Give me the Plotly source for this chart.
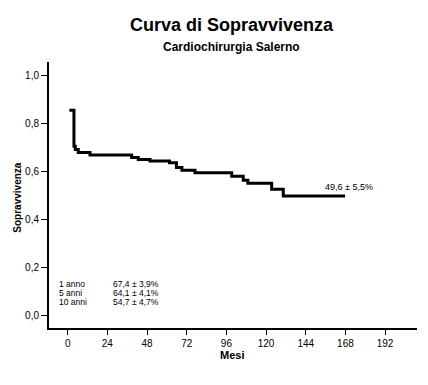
import plotly.graph_objects as go

# Kaplan-Meier step curve (months, survival)
months = [1.0, 3.8, 4.6, 6.4, 13.5, 38.7, 42.7, 49.8, 61.6, 65.8, 69.1, 77.0,
          99.2, 106.2, 109.0, 123.4, 130.4, 167.8]
survival = [0.854, 0.704, 0.690, 0.678, 0.667, 0.657, 0.649, 0.642, 0.635, 0.615,
            0.604, 0.593, 0.579, 0.5625, 0.549, 0.524, 0.496, 0.496]

x_ticks = [0, 24, 48, 72, 96, 120, 144, 168, 192]
y_ticks = [0.0, 0.2, 0.4, 0.6, 0.8, 1.0]
y_tick_labels = ["0,0", "0,2", "0,4", "0,6", "0,8", "1,0"]

stat_labels = ["1 anno", "5 anni", "10 anni"]
stat_values = ["67,4 ± 3,9%", "64,1 ± 4,1%", "54,7 ± 4,7%"]
stat_y = [0.131, 0.093, 0.055]
final_label = "49,6 ± 5,5%"

FONT = "Arial, Liberation Sans, sans-serif"

fig = go.Figure()
fig.add_trace(go.Scatter(
    x=months, y=survival, mode="lines", line=dict(color="black", width=3, shape="hv"),
    hoverinfo="skip", showlegend=False))

annotations = []
for lab, val, yy in zip(stat_labels, stat_values, stat_y):
    annotations.append(dict(x=-5.9, y=yy, xref="x", yref="y", text=lab, showarrow=False,
                            xanchor="left", yanchor="middle", borderpad=0,
                            font=dict(family=FONT, size=8.5, color="black")))
    annotations.append(dict(x=26.8, y=yy, xref="x", yref="y", text=val, showarrow=False,
                            xanchor="left", yanchor="middle", borderpad=0,
                            font=dict(family=FONT, size=8.5, color="black")))
annotations.append(dict(x=154.4, y=0.533, xref="x", yref="y", text=final_label, showarrow=False,
                        xanchor="left", yanchor="middle",
                        font=dict(family=FONT, size=9, color="black")))
annotations.append(dict(x=0.497, y=1.139, xref="paper", yref="paper", text="<b>Curva di Sopravvivenza</b>",
                        showarrow=False, xanchor="center", yanchor="middle",
                        font=dict(family=FONT, size=18, color="black")))
annotations.append(dict(x=0.497, y=1.056, xref="paper", yref="paper", text="<b>Cardiochirurgia Salerno</b>",
                        showarrow=False, xanchor="center", yanchor="middle",
                        font=dict(family=FONT, size=12, color="black")))
annotations.append(dict(x=0.497, y=-0.1015, xref="paper", yref="paper", text="<b>Mesi</b>",
                        showarrow=False, xanchor="center", yanchor="middle",
                        font=dict(family=FONT, size=11, color="black")))
annotations.append(dict(x=-0.0842, y=0.49, xref="paper", yref="paper", text="<b>Sopravvivenza</b>",
                        showarrow=False, xanchor="center", yanchor="middle", textangle=-90,
                        font=dict(family=FONT, size=10, color="black")))

fig.update_layout(
    width=428, height=385,
    margin=dict(l=49, r=11, t=62, b=57),
    paper_bgcolor="white", plot_bgcolor="white",
    annotations=annotations,
    font=dict(family=FONT, size=10, color="black"),
)
fig.update_xaxes(range=[-11.3, 211.3], tickvals=x_ticks, ticktext=[str(v) for v in x_ticks],
                 showgrid=False, zeroline=False, showline=True, linecolor="black", linewidth=2,
                 ticks="outside", ticklen=5, tickwidth=1, tickcolor="black",
                 tickfont=dict(family=FONT, size=10, color="black"))
fig.update_yaxes(range=[-0.054, 1.055], tickvals=y_ticks, ticktext=y_tick_labels,
                 showgrid=False, zeroline=False, showline=True, linecolor="black", linewidth=2,
                 ticks="outside", ticklen=6, tickwidth=1, tickcolor="black",
                 tickfont=dict(family=FONT, size=10, color="black"))

fig.write_html("out.html", config={"displayModeBar": False},
               post_script="document.body.style.margin='0';")
